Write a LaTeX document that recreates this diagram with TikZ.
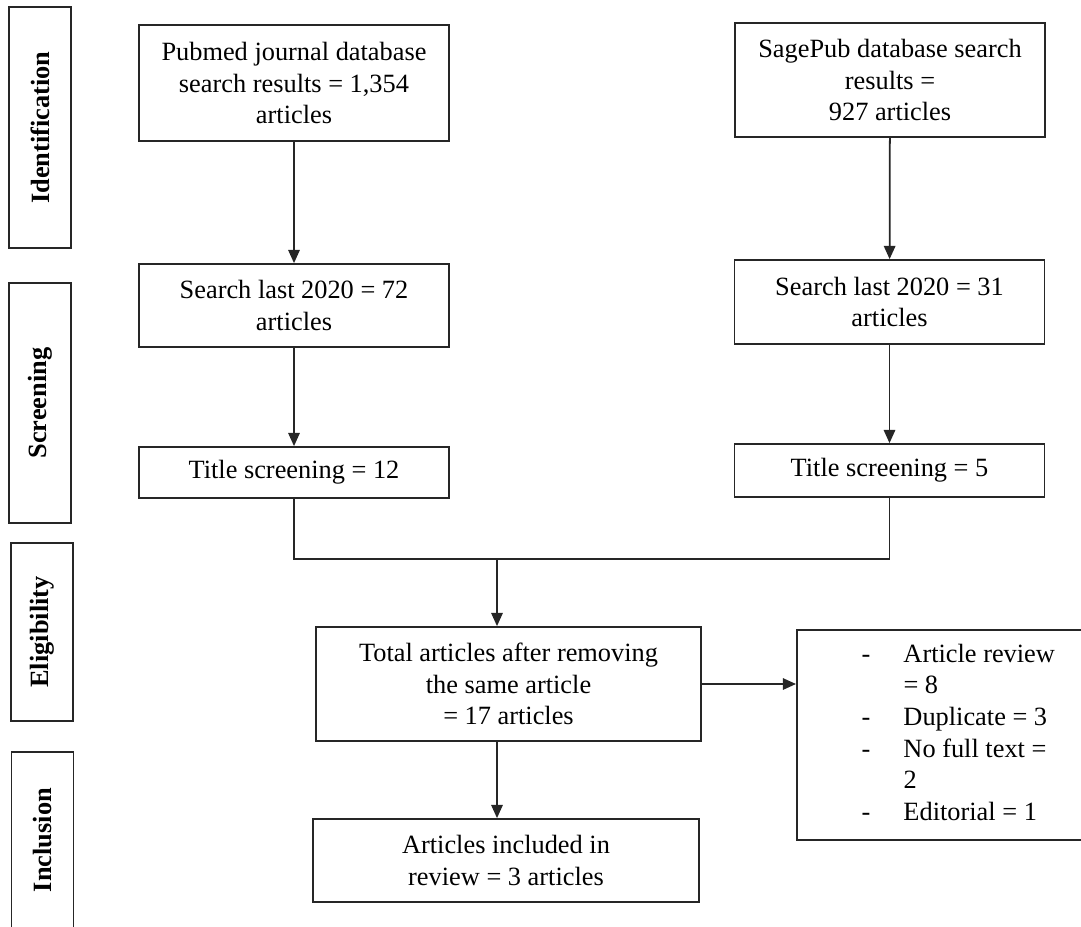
\documentclass[tikz,border=0pt]{standalone}
\usepackage{fontspec}
\setmainfont{Liberation Serif}
\usetikzlibrary{arrows.meta}
\tikzset{
  box/.style={draw=black!85, line width=1pt, align=center, inner sep=0pt,
    minimum width=6.2cm, font=\fontsize{15}{18}\selectfont},
  stagebox/.style={draw=black!85, line width=1pt, rotate=90, inner sep=0pt,
    minimum height=1.24cm, font=\fontsize{15}{18}\selectfont\bfseries},
  link/.style={draw=black!85, line width=1pt},
  arrow/.style={link, -{Triangle[width=6.5pt,length=7.5pt]}}
}

\begin{document}
\begin{tikzpicture}[x=0.02cm, y=-0.02cm]
            \useasboundingbox (0,0) rectangle (1081,926);

            % Stages
            \node[stagebox, minimum width=4.82cm] (identification) at (40,127.5) {Identification};
            \node[stagebox, minimum width=4.8cm] (screening) at (40,403) {Screening};
            \node[stagebox, minimum width=3.56cm] (eligibility) at (42,632) {Eligibility};
            \node[stagebox, minimum width=3.52cm] (inclusion) at (42.5,840) {Inclusion};

            % Nodes
            \node[box, minimum height=2.32cm] (pubmed) at (294,83) {Pubmed journal database\\ search results = 1,354\\ articles};
            \node[box, minimum height=2.28cm] (sagepub) at (890,80) {SagePub database search\\ results =\\ 927 articles};
            \node[box, minimum height=1.66cm] (pubyear) at (294,305.5) {Search last 2020 = 72\\ articles};
            \node[box, minimum height=1.68cm] (sageyear) at (889.5,302) {Search last 2020 = 31\\ articles};
            \node[box, minimum height=1.02cm] (pubtitle) at (294,472.5) {Title screening = 12};
            \node[box, minimum height=1.06cm] (sagetitle) at (889.5,470.5) {Title screening = 5};
            \node[box, minimum width=7.7cm, minimum height=2.28cm] (total) at (508.5,684) {Total articles after removing\\ the same article\\ = 17 articles};
            \node[box, minimum width=7.72cm, minimum height=1.66cm] (included) at (506,860.5) {Articles included in\\ review = 3 articles};
            \node[box, anchor=west, minimum width=6.46cm, minimum height=4.2cm] (excluded) at (796,735)
              {\begin{tabular}{@{}l@{\hspace{0.66cm}}l@{}}
                -&Article review\\ &= 8\\ -&Duplicate = 3\\ -&No full text =\\ &2\\ -&Editorial = 1
               \end{tabular}};
            \coordinate (join) at (497,559);

            % Lines
            \draw[arrow] (pubmed) -- (pubyear);
            \draw[arrow] (pubyear) -- (pubtitle);
            \draw[arrow] (sagepub) -- (sageyear);
            \draw[arrow] (sageyear) -- (sagetitle);
            \draw[link] (pubtitle.south) |- (join) -| (sagetitle.south);
            \draw[arrow] (join) -- (join |- total.north);
            \draw[arrow] (total.south -| join) -- (included.north -| join);
            \draw[arrow] (total.east) -- (total.east -| excluded.west);
        \end{tikzpicture}
\end{document}
